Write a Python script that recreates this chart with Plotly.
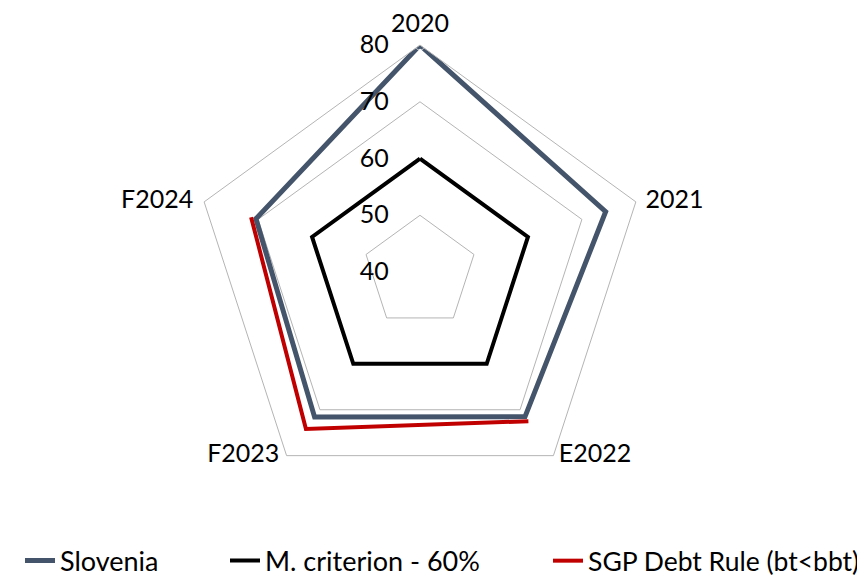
import plotly.graph_objects as go

# ── Data ─────────────────────────────────────────────
CATEGORIES = ["2020", "2021", "E2022", "F2023", "F2024"]
SLOVENIA = [80.0, 74.4, 71.5, 71.6, 70.4]
CRITERION_60 = [60, 60, 60, 60, 60]
SGP_DEBT_RULE = [None, None, 72.5, 74.2, 71.3]
RADIAL_TICKS = [40, 50, 60, 70, 80]

# ── Colours ──────────────────────────────────────────
SLATE = "#44546A"
BLACK = "#000000"
RED = "#C00000"
GRID = "#B4B4B4"
FONT = "Lato, Carlito, Calibri, sans-serif"

# category labels sit just outside the outer ring, Excel-style
LABEL_POS = ["top center", "middle right", "middle right", "middle left", "middle left"]
LABEL_PAD = [10, 14, 7, 10, 16]


def closed(vals):
    return list(vals) + [vals[0]]


fig = go.Figure()
fig.add_trace(go.Scatterpolar(
    r=closed(SLOVENIA), theta=closed(CATEGORIES), mode="lines", name="Slovenia",
    line=dict(color=SLATE, width=5), legend="legend",
))
fig.add_trace(go.Scatterpolar(
    r=closed(CRITERION_60), theta=closed(CATEGORIES), mode="lines", name="M. criterion - 60%",
    line=dict(color=BLACK, width=4), legend="legend2",
))
fig.add_trace(go.Scatterpolar(
    r=SGP_DEBT_RULE, theta=CATEGORIES, mode="lines", name="SGP Debt Rule (bt<bbt)",
    line=dict(color=RED, width=4), connectgaps=False, legend="legend3",
))
fig.add_trace(go.Scatterpolar(
    r=[RADIAL_TICKS[-1]] * len(CATEGORIES), theta=CATEGORIES, mode="markers+text",
    text=CATEGORIES, textposition=LABEL_POS, textfont=dict(size=25, color=BLACK),
    marker=dict(size=LABEL_PAD, color="rgba(0,0,0,0)"),
    showlegend=False, hoverinfo="skip", cliponaxis=False,
))

leg = dict(orientation="h", xanchor="left", y=0.045, yanchor="middle",
           font=dict(size=27), bgcolor="rgba(0,0,0,0)")

fig.update_layout(
    width=865, height=579,
    margin=dict(l=0, r=0, t=0, b=0),
    paper_bgcolor="white",
    font=dict(family=FONT, color=BLACK, size=25),
    polar=dict(
        domain=dict(x=[0.2139, 0.7387], y=[0.152, 0.936]),
        bgcolor="white",
        gridshape="linear",
        radialaxis=dict(
            range=[40, 80], tickvals=RADIAL_TICKS, showline=False,
            showgrid=True, gridcolor=GRID, gridwidth=1,
            angle=90, tickangle=90, side="counterclockwise",
            ticks="outside", ticklen=22, tickcolor="rgba(0,0,0,0)",
            tickfont=dict(size=25),
        ),
        angularaxis=dict(
            categoryorder="array", categoryarray=CATEGORIES,
            direction="clockwise", rotation=90,
            showgrid=False, showline=True, linecolor=GRID, linewidth=1,
            ticks="", showticklabels=False,
        ),
    ),
    showlegend=True,
    legend=dict(leg, x=12 / 865),
    legend2=dict(leg, x=217 / 865),
    legend3=dict(leg, x=540 / 865, font=dict(size=26.5)),
)

fig.write_html("out.html")
